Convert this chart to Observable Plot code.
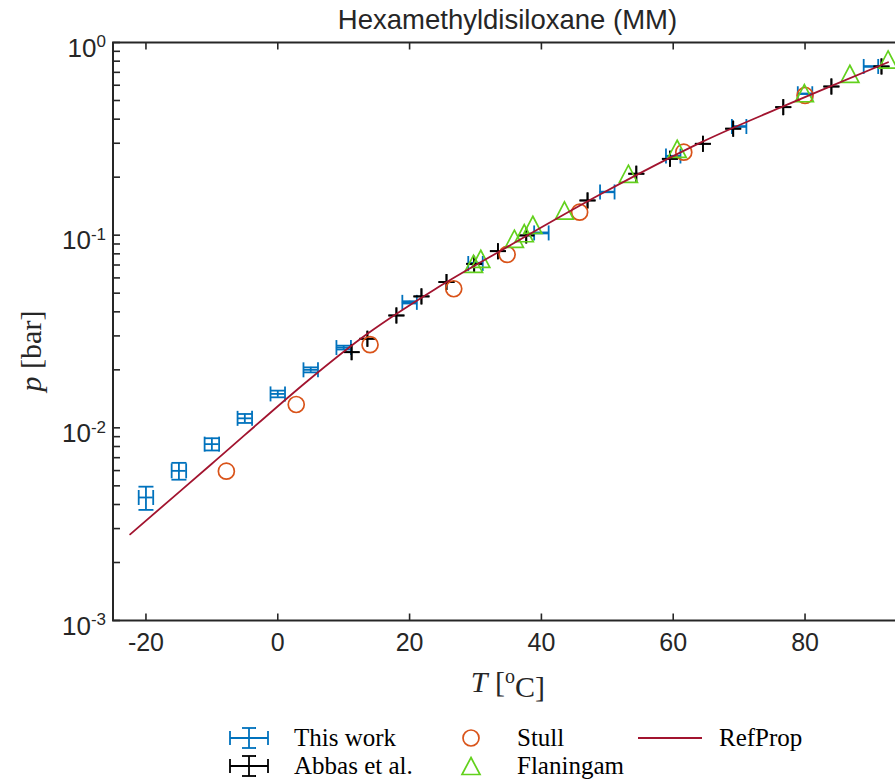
<!DOCTYPE html>
<html>
<head>
<meta charset="utf-8">
<script src="https://cdn.jsdelivr.net/npm/d3@7"></script>
<script src="https://cdn.jsdelivr.net/npm/@observablehq/plot@0.6"></script>
<style>
  html, body { margin: 0; padding: 0; background: #fff; overflow: hidden; }
  #wrap { position: relative; width: 895px; height: 781px; overflow: hidden; background: #fff; }
  #title { position: absolute; left: 112px; width: 791px; top: 4px; text-align: center;
           font-family: "Liberation Sans", Arial, Helvetica, sans-serif; font-size: 27.5px; color: #262626; }
  #chart { position: absolute; left: 0; top: 0; width: 906px; }
  #chart svg { max-width: none !important; }
  #legend { position: absolute; left: 0; top: 718px; }
</style>
</head>
<body>
<div id="wrap">
  <div id="chart"></div>
  <div id="title">Hexamethyldisiloxane (MM)</div>
  <div id="legend"></div>
</div>
<script>
// ---------------- data ----------------
const thisWorkT    = [-20, -15, -10, -5, 0, 5, 10, 20, 30, 40, 50, 60, 70, 80, 90];
const thisWorkP    = [0.00435, 0.00598, 0.00823, 0.0112, 0.0150, 0.0200, 0.0261, 0.0448, 0.0713, 0.1027, 0.1676, 0.2576, 0.3665, 0.542, 0.751];
const thisWorkTErr = [1.1, 1.1, 1.1, 1.1, 1.1, 1.1, 1.1, 1.1, 1.1, 1.1, 1.1, 1.1, 1.1, 1.1, 1.1];
const thisWorkPErr = [0.0006, 0.0006, 0.0006, 0.0006, 0.0006, 0.0006, 0.0006, 0.0006, 0.0006, 0.0006, 0.0006, 0.0006, 0.0006, 0.0006, 0.0006];

const abbasT = [11.2, 13.6, 18.0, 21.8, 25.6, 29.8, 33.4, 37.7, 47.0, 54.4, 59.5, 64.5, 69.1, 76.7, 84.0, 91.6];
const abbasP = [0.0247, 0.0290, 0.0383, 0.0481, 0.0571, 0.0710, 0.0826, 0.0997, 0.1514, 0.2084, 0.249, 0.298, 0.357, 0.4617, 0.591, 0.751];

const stullT = [-7.8, 2.8, 14.0, 26.7, 34.8, 45.8, 61.6, 80.0];
const stullP = [0.00596, 0.01322, 0.0270, 0.0527, 0.0794, 0.1316, 0.2697, 0.531];

const flaningamT = [29.7, 30.8, 35.9, 37.4, 38.7, 43.5, 53.2, 60.6, 79.9, 86.8, 92.6];
const flaningamP = [0.0710, 0.0754, 0.0958, 0.1024, 0.1132, 0.1343, 0.2083, 0.2807, 0.5455, 0.688, 0.816];

const refPropT = [-22.4, -10, 4.6, 13.6, 23.8, 33.9, 49.1, 64.3, 76.4, 92.6];
const refPropP = [0.00280, 0.00651, 0.01762, 0.0308, 0.0523, 0.0833, 0.164, 0.304, 0.462, 0.790];

const xTicks = [-20, 0, 20, 40, 60, 80];
const yTicks = [0.001, 0.01, 0.1, 1];

const seriesNames  = ["This work", "Abbas et al.", "Stull", "Flaningam", "RefProp"];
const seriesColors = ["#0072BD", "#000000", "#D95319", "#62D11C", "#A2142F"];

// ---------------- tables ----------------
const thisWork = thisWorkT.map((T, i) => ({T, p: thisWorkP[i], dT: thisWorkTErr[i], dp: thisWorkPErr[i]}));
const abbas = abbasT.map((T, i) => ({T, p: abbasP[i], dT: 0, dp: 0}));
const stull = stullT.map((T, i) => ({T, p: stullP[i]}));
const flaningam = flaningamT.map((T, i) => ({T, p: flaningamP[i]}));
const refProp = refPropT.map((T, i) => ({T, p: refPropP[i]}));
const yMinor = [];
for (const dec of [0.001, 0.01, 0.1]) for (let k = 2; k <= 9; k++) yMinor.push(dec * k);
const yAllTicks = yTicks.concat(yMinor);

// ---------------- custom symbols ----------------
const rad = s => Math.sqrt(s / Math.PI);
const capV = {draw(c, s) { const r = rad(s); c.moveTo(0, -r); c.lineTo(0, r); }};
const capH = {draw(c, s) { const r = rad(s); c.moveTo(-r, 0); c.lineTo(r, 0); }};
const tri  = {draw(c, s) { const r = rad(s); c.moveTo(0, -r * 0.95); c.lineTo(r, r * 0.95); c.lineTo(-r, r * 0.95); c.closePath(); }};
const tickUp    = {draw(c, s) { const r = rad(s); c.moveTo(0, 0); c.lineTo(0, -r); }};
const tickDown  = {draw(c, s) { const r = rad(s); c.moveTo(0, 0); c.lineTo(0, r); }};
const tickRight = {draw(c, s) { const r = rad(s); c.moveTo(0, 0); c.lineTo(r, 0); }};
const tickLeft  = {draw(c, s) { const r = rad(s); c.moveTo(0, 0); c.lineTo(-r, 0); }};

function errorMarks(data, color, capR) {
  const sw = 1.8;
  return [
    Plot.ruleY(data, {y: "p", x1: d => d.T - d.dT, x2: d => d.T + d.dT, stroke: color, strokeWidth: sw}),
    Plot.ruleX(data, {x: "T", y1: d => d.p - d.dp, y2: d => d.p + d.dp, stroke: color, strokeWidth: sw}),
    Plot.dot(data, {x: d => d.T - d.dT, y: "p", symbol: capV, r: capR, stroke: color, fill: "none", strokeWidth: sw}),
    Plot.dot(data, {x: d => d.T + d.dT, y: "p", symbol: capV, r: capR, stroke: color, fill: "none", strokeWidth: sw}),
    Plot.dot(data, {x: "T", y: d => d.p - d.dp, symbol: capH, r: capR, stroke: color, fill: "none", strokeWidth: sw}),
    Plot.dot(data, {x: "T", y: d => d.p + d.dp, symbol: capH, r: capR, stroke: color, fill: "none", strokeWidth: sw})
  ];
}

const axisColor = "#262626";
const plot = Plot.plot({
  width: 906,
  height: 716,
  marginLeft: 112.5,
  marginRight: 2.6,
  marginTop: 42,
  marginBottom: 96,
  style: {fontFamily: "'Liberation Sans', Arial, Helvetica, sans-serif", color: axisColor, background: "transparent", maxWidth: "none"},
  x: {domain: [-25, 95]},
  y: {type: "log", domain: [0.001, 1]},
  marks: [
    ...errorMarks(thisWork, seriesColors[0], 7.5),
    ...errorMarks(abbas, seriesColors[1], 8),
    Plot.dot(stull, {x: "T", y: "p", r: 8, stroke: seriesColors[2], fill: "none", strokeWidth: 1.7}),
    Plot.dot(flaningam, {x: "T", y: "p", symbol: tri, r: 9, stroke: seriesColors[3], fill: "none", strokeWidth: 1.7}),
    Plot.line(refProp, {x: "T", y: "p", stroke: seriesColors[4], strokeWidth: 1.8, curve: "catmull-rom"}),
    // axis ticks (inward)
    Plot.dot(xTicks, {x: d => d, frameAnchor: "bottom", symbol: tickUp, r: 7, stroke: axisColor, strokeWidth: 1.6}),
    Plot.dot(xTicks, {x: d => d, frameAnchor: "top", symbol: tickDown, r: 7, stroke: axisColor, strokeWidth: 1.6}),
    Plot.dot(yAllTicks, {y: d => d, frameAnchor: "left", symbol: tickRight, r: 7, stroke: axisColor, strokeWidth: 1.6}),
    Plot.dot(yAllTicks, {y: d => d, frameAnchor: "right", symbol: tickLeft, r: 8, stroke: axisColor, strokeWidth: 1.6}),
    Plot.frame({stroke: axisColor, strokeWidth: 2}),
    Plot.axisX({ticks: xTicks, tickSize: 0, tickPadding: 13, fontSize: 25, label: null, tickFormat: d => String(d)}),
    Plot.axisY({ticks: yTicks, tickSize: 0, tickPadding: 7, fontSize: 26, label: null,
                tickFormat: d => "10|" + String(Math.round(Math.log10(d)))})
  ]
});
plot.style.maxWidth = "none";

// superscript exponents on y tick labels
d3.select(plot).selectAll("g[aria-label='y-axis tick label'] text").each(function() {
  const t = d3.select(this);
  const [b, e] = t.text().split("|");
  t.text(null);
  t.attr("transform", (t.attr("transform") || "") + " translate(0,6)");
  t.append("tspan").text(b);
  t.append("tspan").attr("dy", "-0.55em").attr("font-size", "17px").text(e);
});

// axis titles
const xs = plot.scale("x"), ys = plot.scale("y");
const svg = d3.select(plot);
const xMid = (xs.range[0] + xs.range[1]) / 2;
const yMid = (ys.range[0] + ys.range[1]) / 2;
const serif = "'Liberation Serif', 'DejaVu Serif', 'Times New Roman', serif";
const xl = svg.append("text").attr("x", xMid).attr("y", 692).attr("text-anchor", "middle")
  .attr("font-family", serif).attr("font-size", 30).attr("fill", "#262626");
xl.append("tspan").attr("font-style", "italic").text("T");
xl.append("tspan").text(" [");
xl.append("tspan").attr("dy", "-0.45em").attr("font-size", 20).text("o");
xl.append("tspan").attr("dy", "0.45em").text("C]");
const yl = svg.append("text").attr("transform", `translate(41,${yMid + 20}) rotate(-90)`).attr("text-anchor", "middle")
  .attr("font-family", serif).attr("font-size", 30).attr("fill", "#262626");
yl.append("tspan").attr("font-style", "italic").text("p");
yl.append("tspan").text(" [bar]");

document.getElementById("chart").appendChild(plot);

// ---------------- legend ----------------
const lg = d3.select("#legend").append("svg").attr("width", 895).attr("height", 63);
const row = [20, 48];
function legendErr(x, y, color) {
  const g = lg.append("g").attr("stroke", color).attr("stroke-width", 1.8).attr("fill", "none");
  g.append("line").attr("x1", x - 19).attr("x2", x + 19).attr("y1", y).attr("y2", y);
  g.append("line").attr("x1", x - 19).attr("x2", x - 19).attr("y1", y - 7).attr("y2", y + 7);
  g.append("line").attr("x1", x + 19).attr("x2", x + 19).attr("y1", y - 7).attr("y2", y + 7);
  g.append("line").attr("x1", x).attr("x2", x).attr("y1", y - 10).attr("y2", y + 10);
  g.append("line").attr("x1", x - 7).attr("x2", x + 7).attr("y1", y - 10).attr("y2", y - 10);
  g.append("line").attr("x1", x - 7).attr("x2", x + 7).attr("y1", y + 10).attr("y2", y + 10);
}
function legendText(x, y, s) {
  lg.append("text").attr("x", x).attr("y", y + 8).attr("font-family", serif).attr("font-size", 25)
    .attr("fill", "#000").text(s);
}
legendErr(249, row[0], seriesColors[0]); legendText(294, row[0], seriesNames[0]);
legendErr(249, row[1], seriesColors[1]); legendText(294, row[1], seriesNames[1]);
lg.append("circle").attr("cx", 471).attr("cy", row[0]).attr("r", 8).attr("fill", "none")
  .attr("stroke", seriesColors[2]).attr("stroke-width", 1.7);
legendText(517, row[0], seriesNames[2]);
lg.append("path").attr("d", `M471,${row[1] - 8.5}L480,${row[1] + 8.5}L462,${row[1] + 8.5}Z`).attr("fill", "none")
  .attr("stroke", seriesColors[3]).attr("stroke-width", 1.7);
legendText(517, row[1], seriesNames[3]);
lg.append("line").attr("x1", 638).attr("x2", 702).attr("y1", row[0]).attr("y2", row[0])
  .attr("stroke", seriesColors[4]).attr("stroke-width", 1.8);
legendText(719, row[0], seriesNames[4]);
</script>
</body>
</html>
